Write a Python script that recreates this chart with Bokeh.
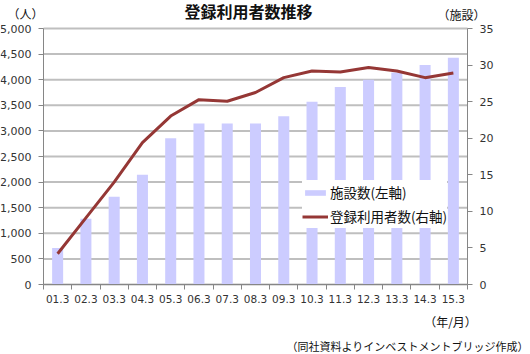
from bokeh.plotting import figure
from bokeh.models import (Range1d, LinearAxis, FixedTicker,
                          Legend, LegendItem, Label, NumeralTickFormatter, ColumnDataSource)
from bokeh.embed import file_html
from bokeh.resources import INLINE

categories = ["01.3", "02.3", "03.3", "04.3", "05.3", "06.3", "07.3", "08.3",
              "09.3", "10.3", "11.3", "12.3", "13.3", "14.3", "15.3"]
facilities = [5, 9, 12, 15, 20, 22, 22, 22, 23, 25, 27, 28, 29, 30, 31]
users = [600, 1300, 2000, 2770, 3290, 3610, 3580, 3750, 4040, 4170, 4150, 4240, 4170, 4040, 4130]
left_ticks = list(range(0, 5001, 500))
right_ticks = list(range(0, 36, 5))
LMAX, RMAX = 5000, 35

W, H = 530, 354
# plot-area rectangle on the canvas (px)
FL, FR, FT, FB = 43, 467, 28, 284
N = len(categories)
xpos = list(range(N))

# the frame covers the whole canvas; ranges are extended so the data area sits at FL..FR / FT..FB
xs = N / (FR - FL)
ys = LMAX / (FB - FT)
rs = RMAX / (FB - FT)
x_range = Range1d(-0.5 - FL * xs, N - 0.5 + (W - FR) * xs)
y_range = Range1d(-(H - FB) * ys, LMAX + FT * ys)
r_range = Range1d(-(H - FB) * rs, RMAX + FT * rs)

src = ColumnDataSource(dict(x=xpos, fac=facilities, usr=users))

p = figure(width=W, height=H, x_range=x_range, y_range=y_range,
           output_backend="svg", toolbar_location=None, x_axis_location=None,
           y_axis_location=None, min_border=0)
p.min_border_left = p.min_border_right = p.min_border_top = p.min_border_bottom = 0
p.outline_line_color = None
p.background_fill_color = "white"
p.border_fill_color = "white"
p.extra_y_ranges = {"right": r_range}
p.grid.visible = False

TICK_FONT = "DejaVu Sans"
AX_COL = "#868686"
GRID_COL = "#BFBFBF"
LBL_COL = "#333333"

# horizontal gridlines at the left-axis ticks, across the plot area only
p.segment(x0=[-0.5] * len(left_ticks), x1=[N - 0.5] * len(left_ticks), y0=left_ticks, y1=left_ticks,
          line_color=GRID_COL, line_width=2)

bars = p.vbar(x="x", top="fac", width=0.39, source=src, y_range_name="right",
              fill_color="#CCCCFF", line_color=None)
line = p.line(x="x", y="usr", source=src, line_color="#953735", line_width=3, line_join="round")

# bottom axis: ticks at category boundaries
bounds = [i - 0.5 for i in range(N + 1)]
tick_axis = LinearAxis(ticker=FixedTicker(ticks=bounds), fixed_location=0, bounds=(-0.5, N - 0.5),
                       major_label_overrides={b: "" for b in bounds},
                       major_label_text_font_size="1px", major_label_standoff=0,
                       axis_line_color=AX_COL, major_tick_line_color=AX_COL,
                       major_tick_out=5, major_tick_in=0, minor_tick_line_color=None)
p.add_layout(tick_axis, "below")
cat_axis = LinearAxis(ticker=FixedTicker(ticks=xpos), fixed_location=0, bounds=(-0.5, N - 0.5),
                      major_label_overrides={i: c for i, c in enumerate(categories)},
                      axis_line_color=None, major_tick_line_color=None, major_tick_out=0,
                      major_tick_in=0, minor_tick_line_color=None, major_label_standoff=10,
                      major_label_text_font=TICK_FONT, major_label_text_font_size="10.5px",
                      major_label_text_color=LBL_COL)
p.add_layout(cat_axis, "below")

left_axis = LinearAxis(ticker=FixedTicker(ticks=left_ticks), formatter=NumeralTickFormatter(format="0,0"),
                       fixed_location=-0.5, bounds=(0, LMAX),
                       axis_line_color=AX_COL, major_tick_line_color=AX_COL,
                       major_tick_out=5, major_tick_in=0, minor_tick_line_color=None,
                       major_label_standoff=7, major_label_text_font=TICK_FONT,
                       major_label_text_font_size="11px", major_label_text_color=LBL_COL)
p.add_layout(left_axis, "left")
right_axis = LinearAxis(y_range_name="right", ticker=FixedTicker(ticks=right_ticks),
                        fixed_location=N - 0.5, bounds=(0, RMAX),
                        axis_line_color=AX_COL, major_tick_line_color=AX_COL,
                        major_tick_out=5, major_tick_in=0, minor_tick_line_color=None,
                        major_label_standoff=7, major_label_text_font=TICK_FONT,
                        major_label_text_font_size="11px", major_label_text_color=LBL_COL)
p.add_layout(right_axis, "right")

legend = Legend(items=[LegendItem(label="施設数(左軸)", renderers=[bars]),
                       LegendItem(label="登録利用者数(右軸)", renderers=[line])],
                location=(FL + 259, H - FB + 56), background_fill_color="white",
                background_fill_alpha=1.0,
                border_line_color=None, glyph_width=26, glyph_height=7, label_height=24,
                label_standoff=2, spacing=0, padding=4, margin=0,
                label_text_font="Noto Sans CJK JP", label_text_font_size="13.5px",
                label_text_color="#111111")
p.add_layout(legend, "center")

texts = [
    ("登録利用者数推移", 248, 10, "center", "bold", "16px"),
    ("（人）", 25, 13, "center", "normal", "12px"),
    ("（施設）", 461, 14, "center", "normal", "12px"),
    ("（年/月）", 450, 321, "center", "normal", "12px"),
    ("（同社資料よりインベストメントブリッジ作成）", 528, 345, "right", "normal", "11px"),
]
for t, x, y, al, st, fs in texts:
    p.add_layout(Label(x=x, y=y, x_units="canvas", y_units="canvas", text=t, text_align=al,
                       text_baseline="middle", text_font="Noto Sans CJK JP", text_font_style=st,
                       text_font_size=fs, text_color="#111111"))

open("out.html", "w").write(file_html(p, INLINE))
